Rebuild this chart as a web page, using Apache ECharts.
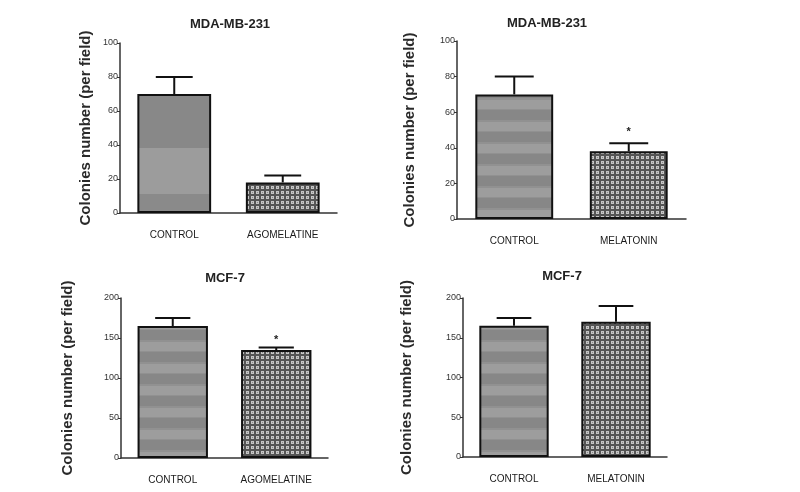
<!DOCTYPE html>
<html><head><meta charset="utf-8">
<script src="https://cdn.jsdelivr.net/npm/echarts@6/dist/echarts.min.js"></script>
<style>html,body{margin:0;padding:0;background:#fff}#c{width:800px;height:492px}</style>
</head><body><div id="c"></div>
<script>
// ---- data ----
const catsAgo = ['CONTROL', 'AGOMELATINE'];
const catsMel = ['CONTROL', 'MELATONIN'];
const mdaAgoMean = [70, 18];
const mdaAgoErr = [10, 4];
const mdaMelMean = [70, 38];
const mdaMelErr = [10, 4.5];
const mcfAgoMean = [165, 135];
const mcfAgoErr = [10, 3];
const mcfMelMean = [165, 170];
const mcfMelErr = [10, 20];
const mdaMelStar = [null, 49];
const mcfAgoStar = [null, 147];
const mdaTicks = [0, 20, 40, 60, 80, 100];
const mcfTicks = [0, 50, 100, 150, 200];
const titlesTop = 'MDA-MB-231';
const titlesBottom = 'MCF-7';
const yName = 'Colonies number (per field)';

// ---- patterns ----
function stripeCanvas() {
  const c = document.createElement('canvas'); c.width = 4; c.height = 22;
  const g = c.getContext('2d');
  g.fillStyle = '#9d9d9d'; g.fillRect(0, 0, 4, 22);
  g.fillStyle = '#878787'; g.fillRect(0, 0, 4, 11);
  g.fillStyle = '#919191'; g.fillRect(0, 10, 4, 2); g.fillRect(0, 21, 4, 1);
  return c;
}
function checkCanvas() {
  const c = document.createElement('canvas'); c.width = 5; c.height = 5;
  const g = c.getContext('2d');
  g.fillStyle = '#555555'; g.fillRect(0, 0, 5, 5);
  g.fillStyle = '#c6c6c6'; g.fillRect(1, 1, 3, 3);
  g.fillStyle = '#8a8a8a'; g.fillRect(2, 2, 1, 1);
  return c;
}
const stripe = { image: stripeCanvas(), repeat: 'repeat' };
const check = { image: checkCanvas(), repeat: 'repeat' };
const firstControl = {
  type: 'linear', x: 0, y: 0, x2: 0, y2: 1,
  colorStops: [
    { offset: 0, color: '#888888' }, { offset: 0.457, color: '#888888' },
    { offset: 0.457, color: '#9c9c9c' }, { offset: 0.843, color: '#9c9c9c' },
    { offset: 0.843, color: '#8a8a8a' }, { offset: 1, color: '#8a8a8a' }
  ]
};

const grids = [
  { left: 120, top: 43, width: 217, height: 170 },
  { left: 457, top: 41, width: 229, height: 178 },
  { left: 121, top: 298, width: 207, height: 160 },
  { left: 463, top: 298, width: 204, height: 159 }
];
const panels = [
  { cats: catsAgo, mean: mdaAgoMean, err: mdaAgoErr, star: [null, null], ticks: mdaTicks, ctrl: firstControl, nameGap: 27 },
  { cats: catsMel, mean: mdaMelMean, err: mdaMelErr, star: mdaMelStar, ticks: mdaTicks, ctrl: stripe, nameGap: 40 },
  { cats: catsAgo, mean: mcfAgoMean, err: mcfAgoErr, star: mcfAgoStar, ticks: mcfTicks, ctrl: stripe, nameGap: 46 },
  { cats: catsMel, mean: mcfMelMean, err: mcfMelErr, star: [null, null], ticks: mcfTicks, ctrl: stripe, nameGap: 49 }
];

const font = 'Liberation Sans, Arial, sans-serif';
const xAxis = [], yAxis = [], series = [];
panels.forEach((p, i) => {
  const tk = p.ticks;
  xAxis.push({
    type: 'category', gridIndex: i, data: p.cats,
    axisLine: { lineStyle: { color: '#333', width: 1.5 } },
    axisTick: { alignWithLabel: true, length: 4, lineStyle: { color: '#333' } },
    axisLabel: { margin: 17, color: '#1a1a1a', fontSize: 10, fontFamily: font }
  });
  yAxis.push({
    type: 'value', gridIndex: i, min: tk[0], max: tk[tk.length - 1], interval: tk[1] - tk[0],
    name: yName, nameLocation: 'middle', nameGap: p.nameGap,
    nameTextStyle: { fontFamily: font, fontWeight: 'bold', fontSize: 15, color: '#2a2a2a' },
    axisLine: { show: true, lineStyle: { color: '#333', width: 1.5 } },
    axisTick: { show: true, length: 3, lineStyle: { color: '#333' } },
    axisLabel: { margin: 2, color: '#333', fontSize: 9, fontFamily: font },
    splitLine: { show: false }
  });
  series.push({
    type: 'bar', xAxisIndex: i, yAxisIndex: i, barWidth: '68%',
    data: p.mean.map((v, j) => ({ value: v, itemStyle: { color: j === 0 ? p.ctrl : check } })),
    itemStyle: { borderColor: '#111', borderWidth: 2 },
    silent: true, animation: false
  });
  series.push({
    type: 'custom', xAxisIndex: i, yAxisIndex: i, animation: false, silent: true,
    data: p.mean.map((v, j) => [j, v, v + p.err[j]]),
    renderItem: function (params, api) {
      const x = api.value(0);
      const lo = api.coord([x, api.value(1)]);
      const hi = api.coord([x, api.value(2)]);
      const half = api.size([1, 0])[0] * 0.68 * 0.25;
      const style = { stroke: '#111', lineWidth: 2 };
      return { type: 'group', children: [
        { type: 'line', shape: { x1: lo[0], y1: lo[1], x2: hi[0], y2: hi[1] }, style: style },
        { type: 'line', shape: { x1: hi[0] - half, y1: hi[1], x2: hi[0] + half, y2: hi[1] }, style: style }
      ] };
    }
  });
  series.push({
    type: 'custom', xAxisIndex: i, yAxisIndex: i, animation: false, silent: true,
    data: p.star.map((v, j) => v == null ? null : [j, v]).filter(d => d),
    renderItem: function (params, api) {
      const pt = api.coord([api.value(0), api.value(1)]);
      return { type: 'text', x: pt[0], y: pt[1], style: { text: '*', fill: '#222', font: 'bold 11px ' + font, align: 'center', verticalAlign: 'middle' } };
    }
  });
});

const titleStyle = { fontFamily: font, fontWeight: 'bold', fontSize: 13, color: '#222' };
const chart = echarts.init(document.getElementById('c'), null, { renderer: 'canvas' });
chart.setOption({
  backgroundColor: '#fff',
  animation: false,
  title: [
    { text: titlesTop, left: 225, top: 13, textAlign: 'center', textStyle: titleStyle },
    { text: titlesTop, left: 542, top: 12, textAlign: 'center', textStyle: titleStyle },
    { text: titlesBottom, left: 220, top: 267, textAlign: 'center', textStyle: titleStyle },
    { text: titlesBottom, left: 557, top: 265, textAlign: 'center', textStyle: titleStyle }
  ],
  grid: grids,
  xAxis: xAxis,
  yAxis: yAxis,
  series: series
});
</script></body></html>
